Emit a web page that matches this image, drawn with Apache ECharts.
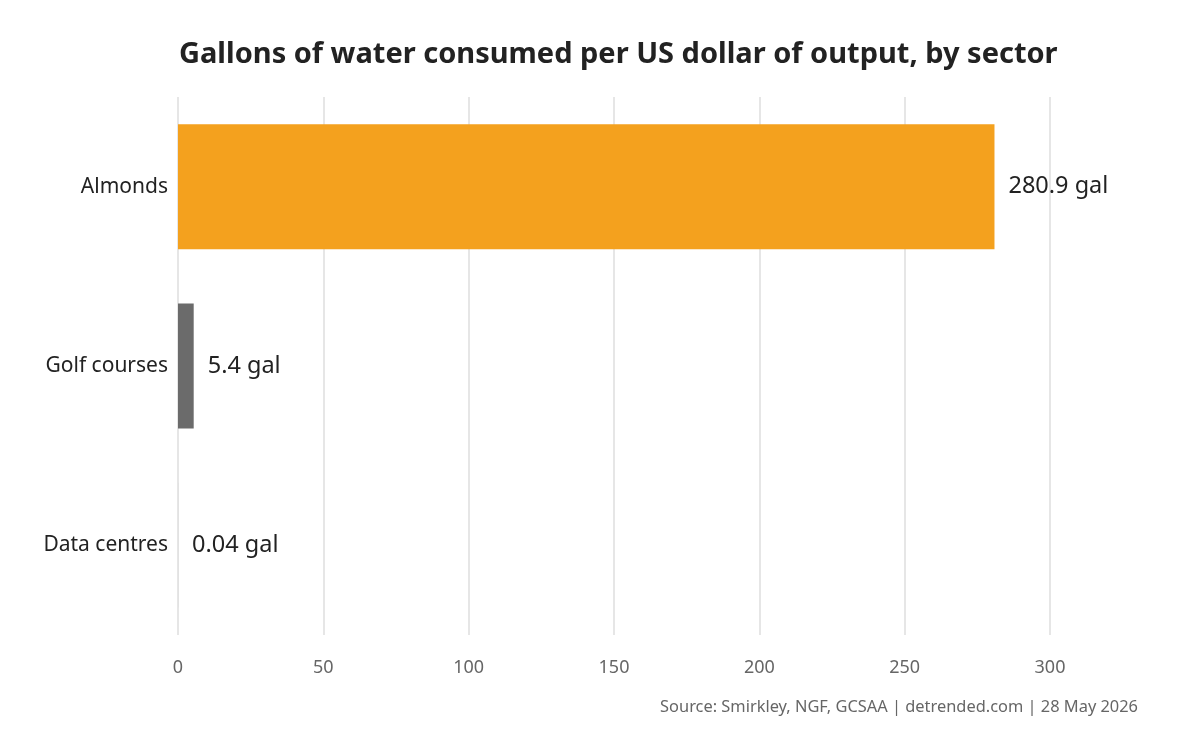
<!DOCTYPE html>
<html><head><meta charset="utf-8">
<script src="https://cdn.jsdelivr.net/npm/echarts@6/dist/echarts.min.js"></script>
<style>html,body{margin:0;background:#fff}#c{width:1200px;height:750px}</style>
</head><body><div id="c"></div>
<script>
const categories = ["Almonds", "Golf courses", "Data centres"];
const values = [280.9, 5.4, 0.04];
const labels = ["280.9 gal", "5.4 gal", "0.04 gal"];
const colors = ["#f4a11e", "#6b6b6b", "#cccccc"];
const F = "'Noto Sans', sans-serif";
const chart = echarts.init(document.getElementById('c'));
chart.setOption({
  animation: false,
  title: { text: "Gallons of water consumed per US dollar of output, by sector", left: 174, top: 35,
    textStyle: { fontFamily: F, fontSize: 29, fontWeight: 'bold', color: '#222' } },
  graphic: [{ type: 'text', right: 62, top: 699, style: { text: "Source: Smirkley, NGF, GCSAA | detrended.com | 28 May 2026",
    fontFamily: F, fontSize: 16.4, fill: '#666' } }],
  grid: { left: 178, right: 150, top: 97, bottom: 115 },
  xAxis: { type: 'value', min: 0, max: 300, interval: 50,
    axisLine: { show: false }, axisTick: { show: false },
    axisLabel: { fontFamily: F, fontSize: 18, color: '#666', margin: 24 },
    splitLine: { lineStyle: { color: '#e6e6e6', width: 2 } } },
  yAxis: { type: 'category', data: categories, inverse: true,
    axisLine: { show: false }, axisTick: { show: false },
    axisLabel: { fontFamily: F, fontSize: 21, color: '#222', margin: 10 } },
  series: [{ type: 'bar', barWidth: 125,
    data: values.map((v, i) => ({ value: v, itemStyle: { color: colors[i] } })),
    label: { show: true, position: 'right', distance: 14, fontFamily: F, fontSize: 23.5, color: '#222',
      formatter: p => labels[p.dataIndex] } }]
});
</script></body></html>
